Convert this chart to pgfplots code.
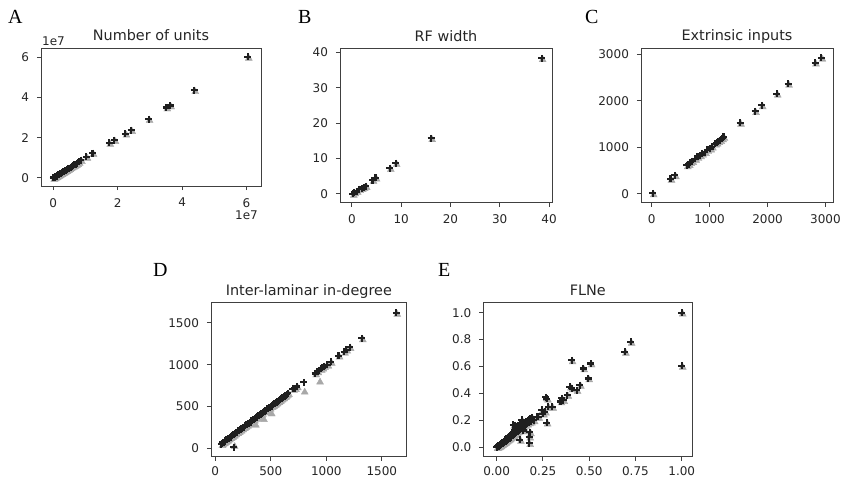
\documentclass[border=0pt]{standalone}
\usepackage{pgfplots}
\pgfplotsset{compat=1.18}
\usepackage{pgfplotstable}
\usepackage{fontspec}
\setmainfont{DejaVu Sans}
\newfontfamily\letterfont{Liberation Serif}
\definecolor{txt}{HTML}{262626}
\definecolor{gmark}{HTML}{A8A8A8}

\pgfplotstableread{
x y
0.00 0.00
0.02 0.02
0.04 0.03
0.06 0.06
0.08 0.08
0.10 0.09
0.13 0.12
0.16 0.15
0.19 0.18
0.22 0.21
0.25 0.24
0.28 0.27
0.31 0.30
0.34 0.33
0.37 0.36
0.40 0.39
0.43 0.42
0.46 0.45
0.50 0.49
0.54 0.53
0.58 0.57
0.62 0.61
0.66 0.65
0.70 0.69
0.74 0.74
0.79 0.80
0.86 0.88
1.03 1.05
1.22 1.24
1.74 1.74
1.90 1.88
2.24 2.20
2.42 2.38
2.96 2.93
3.51 3.50
3.63 3.60
4.38 4.36
6.04 6.02
}\dataA

\pgfplotstableread{
x y
0.2 0.0
0.5 0.4
1.0 0.8
1.5 1.3
2.0 1.6
2.4 1.9
2.8 2.2
4.2 3.9
4.8 4.6
7.7 7.3
8.9 8.7
16.1 15.7
38.5 38.3
}\dataB

\pgfplotstableread{
x y
17 5
325 320
400 395
605 610
640 635
665 680
700 700
750 750
790 790
835 825
870 860
920 895
960 940
1010 970
1040 1010
1095 1075
1120 1100
1150 1130
1185 1150
1215 1190
1240 1220
1525 1525
1785 1775
1900 1900
2160 2150
2355 2365
2820 2820
2930 2925
}\dataC

\pgfplotstableread{
x yb yg
55 50 50
62 58 58
70 72 72
78 74 74
85 88 88
92 90 90
100 103 103
108 104 104
115 118 118
122 120 120
130 133 133
138 134 134
145 148 148
152 150 150
160 163 163
166 15 40
168 164 164
175 178 178
182 180 180
190 193 193
198 194 194
205 208 208
212 210 210
220 223 223
228 224 224
235 238 238
242 240 240
250 253 253
258 254 254
265 268 268
272 270 270
280 283 283
288 284 284
295 298 298
302 300 300
310 313 313
318 314 314
325 328 328
332 330 330
340 343 343
348 344 344
357 360 294
365 364 364
372 375 375
380 378 378
390 393 393
398 394 394
405 408 408
412 410 410
420 423 423
430 428 361
438 441 441
445 444 444
452 455 455
460 458 458
468 471 471
475 474 474
482 485 485
490 488 488
500 503 429
508 506 506
515 518 518
522 520 520
530 533 533
538 536 536
545 548 548
552 550 550
560 563 563
568 566 566
575 578 578
582 580 580
590 593 593
598 596 596
605 608 608
612 610 610
620 623 623
628 626 626
635 638 638
645 650 650
655 660 660
700 712 712
718 720 720
735 740 740
797 790 690
900 895 895
920 920 920
935 935 810
950 950 950
965 965 965
980 985 985
1010 1000 1000
1040 1035 1035
1110 1110 1110
1160 1155 1155
1180 1180 1180
1210 1210 1210
1320 1315 1315
1630 1620 1620
}\dataD

\pgfplotstableread{
x y
0.000 0.000
0.003 0.005
0.005 0.002
0.008 0.010
0.010 0.006
0.012 0.015
0.015 0.010
0.018 0.020
0.020 0.014
0.022 0.026
0.025 0.020
0.028 0.030
0.030 0.024
0.033 0.038
0.035 0.030
0.038 0.042
0.040 0.035
0.043 0.050
0.045 0.040
0.048 0.055
0.050 0.046
0.053 0.062
0.055 0.050
0.058 0.068
0.060 0.056
0.063 0.075
0.065 0.062
0.068 0.080
0.070 0.066
0.073 0.088
0.075 0.072
0.078 0.095
0.080 0.078
0.083 0.100
0.085 0.085
0.088 0.108
0.090 0.090
0.093 0.115
0.095 0.095
0.098 0.125
0.100 0.100
0.103 0.135
0.105 0.110
0.108 0.145
0.110 0.115
0.113 0.155
0.115 0.120
0.118 0.160
0.120 0.125
0.125 0.170
0.128 0.135
0.130 0.180
0.135 0.145
0.140 0.160
0.145 0.150
0.150 0.180
0.155 0.165
0.160 0.190
0.165 0.175
0.170 0.200
0.175 0.185
0.180 0.210
0.185 0.190
0.190 0.220
0.200 0.200
0.090 0.166
0.099 0.165
0.126 0.054
0.144 0.124
0.135 0.203
0.176 0.203
0.176 0.079
0.176 0.030
0.180 0.110
0.216 0.227
0.243 0.277
0.261 0.264
0.270 0.183
0.279 0.300
0.265 0.370
0.272 0.360
0.351 0.363
0.382 0.388
0.405 0.437
0.432 0.425
0.450 0.462
0.396 0.450
0.405 0.645
0.468 0.585
0.495 0.511
0.508 0.622
0.693 0.709
0.724 0.783
1.000 1.000
1.000 0.605
0.225 0.225
0.250 0.250
0.300 0.300
0.360 0.350
0.345 0.340
}\dataE

\pgfplotsset{
  every axis/.append style={
    scale only axis,
    axis line style={black!75, line width=0.9pt},
    tick align=outside,
    major tick length=4.2pt,
    tick style={black!75, line width=0.9pt},
    xtick pos=bottom, ytick pos=left,
    scaled ticks=false,
    /pgf/number format/assume math mode=true,
    /pgf/number format/1000 sep={},
    tick label style={font=\fontsize{12}{14}\selectfont, text=txt, inner sep=0pt},
    xticklabel style={anchor=north, yshift=-7.7pt},
    yticklabel style={anchor=east, xshift=-7.7pt},
    title style={at={(0.5,1)}, font=\fontsize{14.4}{16}\selectfont, text=txt, anchor=base, inner sep=0pt, yshift=1.3pt},
  },
  greym/.style={only marks, mark=triangle*, mark size=4pt, color=gmark, mark options={xshift=1pt, yshift=-1.5pt}},
  blackm/.style={only marks, mark=+, mark size=3.5pt, color=black!88, mark options={line width=2.1pt}},
}

\begin{document}
\begin{tikzpicture}
\path[use as bounding box] (0pt,-3pt) rectangle (841pt,476pt);

% A
\begin{axis}[at={(41pt,290pt)}, anchor=south west, width=220pt, height=138pt,
  title={Number of units},
  xmin=-0.38, xmax=6.45, ymin=-0.40, ymax=6.46,
  xtick={0,2,4,6}, ytick={0,2,4,6}]
\addplot[greym] table[x=x,y=y] {\dataA};
\addplot[blackm] table[x=x,y=y] {\dataA};
\end{axis}
\node[anchor=base west, inner sep=0pt, font=\fontsize{12}{14}\selectfont, text=txt] at (42pt,430.7pt) {1e7};
\node[anchor=base east, inner sep=0pt, font=\fontsize{12}{14}\selectfont, text=txt] at (258pt,256pt) {1e7};

% B
\begin{axis}[at={(340pt,273.3pt)}, anchor=south west, width=212pt, height=154pt,
  title={RF width},
  xmin=-2.4, xmax=40.6, ymin=-2.5, ymax=41,
  xtick={0,10,20,30,40}, ytick={0,10,20,30,40}]
\addplot[greym] table[x=x,y=y] {\dataB};
\addplot[blackm] table[x=x,y=y] {\dataB};
\end{axis}

% C
\begin{axis}[at={(641pt,273.3pt)}, anchor=south west, width=192pt, height=154.7pt,
  title={Extrinsic inputs},
  xmin=-185, xmax=3131, ymin=-194, ymax=3135,
  xtick={0,1000,2000,3000}, ytick={0,1000,2000,3000}]
\addplot[greym] table[x=x,y=y] {\dataC};
\addplot[blackm] table[x=x,y=y] {\dataC};
\end{axis}

% D
\begin{axis}[at={(211pt,19.5pt)}, anchor=south west, width=195.7pt, height=153.8pt,
  title={Inter-laminar in-degree},
  xmin=-38, xmax=1724, ymin=-97, ymax=1742,
  xtick={0,500,1000,1500}, ytick={0,500,1000,1500},
  xticklabel style={yshift=1.6pt}]
\addplot[greym] table[x=x,y=yg] {\dataD};
\addplot[blackm] table[x=x,y=yb] {\dataD};
\end{axis}

% E
\begin{axis}[at={(483.3pt,19.5pt)}, anchor=south west, width=209pt, height=153.8pt,
  title={FLNe},
  xmin=-0.072, xmax=1.057, ymin=-0.069, ymax=1.074,
  xtick={0,0.25,0.5,0.75,1}, ytick={0,0.2,0.4,0.6,0.8,1},
  xticklabel style={yshift=1.6pt, /pgf/number format/.cd, fixed, fixed zerofill, precision=2},
  yticklabel style={/pgf/number format/.cd, fixed, fixed zerofill, precision=1}]
\addplot[greym] table[x=x,y=y] {\dataE};
\addplot[blackm] table[x=x,y=y] {\dataE};
\end{axis}

% panel letters
\node[anchor=base west, inner sep=0pt, font=\letterfont\fontsize{20}{22}\selectfont] at (8pt,452pt) {A};
\node[anchor=base west, inner sep=0pt, font=\letterfont\fontsize{20}{22}\selectfont] at (298pt,452pt) {B};
\node[anchor=base west, inner sep=0pt, font=\letterfont\fontsize{20}{22}\selectfont] at (585pt,452pt) {C};
\node[anchor=base west, inner sep=0pt, font=\letterfont\fontsize{20}{22}\selectfont] at (153pt,199pt) {D};
\node[anchor=base west, inner sep=0pt, font=\letterfont\fontsize{20}{22}\selectfont] at (438pt,199pt) {E};
\end{tikzpicture}
\end{document}
